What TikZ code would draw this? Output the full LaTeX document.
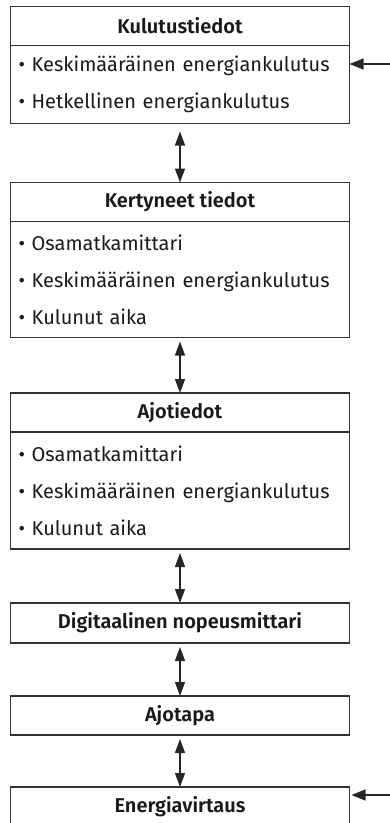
\documentclass[tikz,border=0pt]{standalone}
\usepackage{fontspec}
\setmainfont{Fira Sans}[BoldFont={Fira Sans SemiBold}]
\usetikzlibrary{arrows.meta,positioning}

\begin{document}
\begin{tikzpicture}[x=1pt,y=1pt,
  otsikko/.style={draw=black!80, line width=1.4pt, outer sep=0pt, inner sep=0pt,
    minimum width=339pt, minimum height=39pt, text=black!90,
    font=\fontsize{20}{24}\selectfont\bfseries},
  lista/.style={draw=black!80, line width=1.4pt, outer sep=0pt, inner xsep=8pt, inner ysep=0pt,
    text width=323pt, align=left, text=black!90, font=\fontsize{20}{37}\selectfont},
  nuoli/.style={{Triangle[length=14pt,width=10pt]}-{Triangle[length=14pt,width=10pt]},
    line width=1.3pt, black!85, shorten <=4pt},
  syotto/.style={-{Triangle[length=14pt,width=11pt]}, line width=1.3pt, black!85}
]
\useasboundingbox (0,0) rectangle (390,-823);
% laatikot ylhaalta alas
\node[otsikko] (kulutus) at (180,-26) {Kulutustiedot};
\node[lista, minimum height=78pt, below=0pt of kulutus] (kulutuslista)
  {• Keskimääräinen energiankulutus\\• Hetkellinen energiankulutus};
\node[otsikko] (kertyneet) at (180,-202) {Kertyneet tiedot};
\node[lista, minimum height=116pt, below=0pt of kertyneet] (kertyneetlista)
  {• Osamatkamittari\\• Keskimääräinen energiankulutus\\• Kulunut aika};
\node[otsikko] (ajo) at (180,-412.5) {Ajotiedot};
\node[lista, minimum height=117pt, below=0pt of ajo] (ajolista)
  {• Osamatkamittari\\• Keskimääräinen energiankulutus\\• Kulunut aika};
\node[otsikko, minimum height=40pt] (nopeus) at (180,-623) {Digitaalinen nopeusmittari};
\node[otsikko] (ajotapa) at (180,-715.5) {Ajotapa};
\node[otsikko] (energia) at (180,-806.5) {Energiavirtaus};
% nuolet
\draw[nuoli, shorten <=8pt] (kulutuslista) -- (kertyneet);
\draw[nuoli] (kertyneetlista) -- (ajo);
\draw[nuoli] (ajolista) -- (nopeus);
\draw[nuoli] (nopeus) -- (ajotapa);
\draw[nuoli] (ajotapa) -- (energia);
\coordinate (tulo1) at (390,-64);
\coordinate (tulo2) at (390,-795);
\draw[syotto] (tulo1) -- (tulo1 -| kulutuslista.east);
\draw[syotto, shorten >=2pt] (tulo2) -- (tulo2 -| energia.east);
\end{tikzpicture}
\end{document}
